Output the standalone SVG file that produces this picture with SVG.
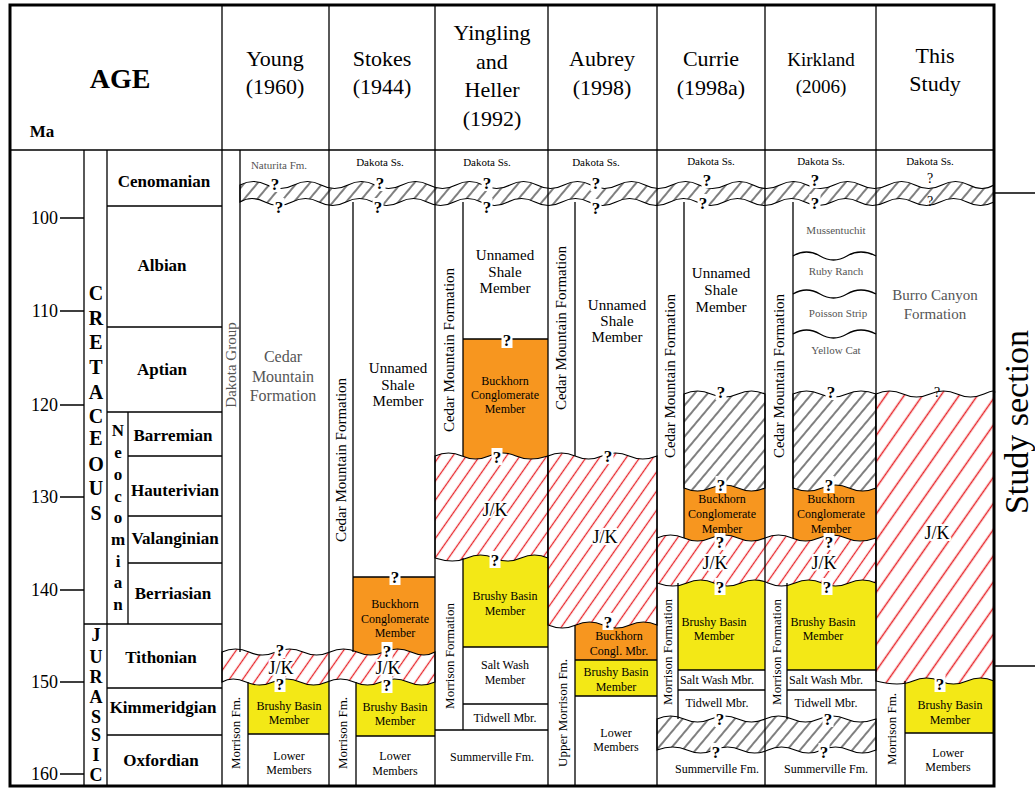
<svg xmlns="http://www.w3.org/2000/svg" width="1035" height="789" viewBox="0 0 1035 789" font-family="'Liberation Serif', 'DejaVu Serif', serif">
<style>
text{font-family:'Liberation Serif','DejaVu Serif',serif;text-anchor:middle;fill:#000}
.ln{stroke:#000;stroke-width:1.3;fill:none}
.bd{stroke:#000;stroke-width:1.2}
.g{fill:#555}
.b{font-weight:bold}
.m{font-size:12px}
.s{font-size:11px}
.u{font-size:15px}
.jk{font-size:18px;stroke:#fff;stroke-width:4;paint-order:stroke;stroke-linejoin:round}
.h{font-size:22px}
.stg{font-size:17px;font-weight:bold}
.num{font-size:18px;text-anchor:end}
.yel{fill:#f3e816}
.org{fill:#f7961f}
</style>
<defs>
<pattern id="redh" patternUnits="userSpaceOnUse" width="11" height="11" patternTransform="rotate(35)"><rect width="11" height="11" fill="#fff"/><line x1="5.5" y1="0" x2="5.5" y2="11" stroke="#e8262b" stroke-width="1.3"/></pattern>
<pattern id="redh2" patternUnits="userSpaceOnUse" width="15" height="15" patternTransform="rotate(35)"><rect width="15" height="15" fill="#fff"/><line x1="7.5" y1="0" x2="7.5" y2="15" stroke="#e8262b" stroke-width="1.5"/></pattern>
<pattern id="grayh" patternUnits="userSpaceOnUse" width="10" height="10" patternTransform="rotate(40)"><rect width="10" height="10" fill="#fff"/><line x1="5" y1="0" x2="5" y2="10" stroke="#000" stroke-width="1"/></pattern>
<g id="q"><rect x="-5.5" y="-9" width="11" height="17" fill="#fff"/><text y="6" font-size="17" font-weight="bold" font-family="'Liberation Serif', serif">?</text></g>
</defs>
<rect width="1035" height="789" fill="#fff"/>

<g id="header" font-family="'Liberation Serif', serif">
<text x="120" y="88" font-size="28" class="b">AGE</text>
<text x="42" y="137" font-size="17" class="b">Ma</text>
<text x="275" y="66" class="h">Young</text><text x="275" y="94" class="h">(1960)</text>
<text x="382" y="66" class="h">Stokes</text><text x="382" y="94" class="h">(1944)</text>
<text x="492" y="40" class="h">Yingling</text><text x="492" y="69" class="h">and</text><text x="492" y="97" class="h">Heller</text><text x="492" y="126" class="h">(1992)</text>
<text x="602" y="66" class="h">Aubrey</text><text x="602" y="95" class="h">(1998)</text>
<text x="711" y="66" class="h">Currie</text><text x="711" y="95" class="h">(1998a)</text>
<text x="821" y="66" font-size="19" fill="#333">Kirkland</text><text x="821" y="93" font-size="19" fill="#333">(2006)</text>
<text x="935" y="63" class="h">This</text><text x="935" y="91" class="h">Study</text>
</g>

<g id="age">
<path class="ln" d="M84,150V786 M107,150V786 M128,412V624 M107,206H222 M107,327H222 M107,412H222 M128,456H222 M128,516H222 M128,563H222 M84,624H222 M107,688H222 M107,735H222"/>
<path class="ln" d="M60,218H84 M60,311H84 M60,405H84 M60,497H84 M60,590H84 M60,682H84 M60,774H84"/>
<text x="58" y="224" class="num">100</text>
<text x="58" y="317" class="num">110</text>
<text x="58" y="411" class="num">120</text>
<text x="58" y="503" class="num">130</text>
<text x="58" y="596" class="num">140</text>
<text x="58" y="688" class="num">150</text>
<text x="58" y="780" class="num">160</text>
<g font-size="20" font-weight="bold">
<text x="96" y="300" class="b">C</text><text x="96" y="325" class="b">R</text><text x="96" y="349" class="b">E</text><text x="96" y="374" class="b">T</text><text x="96" y="399" class="b">A</text><text x="96" y="423" class="b">C</text><text x="96" y="445" class="b">E</text><text x="96" y="471" class="b">O</text><text x="96" y="495" class="b">U</text><text x="96" y="520" class="b">S</text>
</g>
<g font-size="17">
<text x="118" y="436" class="b">N</text><text x="118" y="458" class="b">e</text><text x="118" y="480" class="b">o</text><text x="118" y="502" class="b">c</text><text x="118" y="523" class="b">o</text><text x="118" y="545" class="b">m</text><text x="118" y="567" class="b">i</text><text x="118" y="588" class="b">a</text><text x="118" y="610" class="b">n</text>
</g>
<g font-size="18">
<text x="96" y="641" class="b">J</text><text x="96" y="663" class="b">U</text><text x="96" y="683" class="b">R</text><text x="96" y="703" class="b">A</text><text x="96" y="723" class="b">S</text><text x="96" y="741" class="b">S</text><text x="96" y="761" class="b">I</text><text x="96" y="781" class="b">C</text>
</g>
<text x="164" y="187" class="stg">Cenomanian</text>
<text x="162" y="271" class="stg">Albian</text>
<text x="162" y="375" class="stg">Aptian</text>
<text x="173" y="441" class="stg">Barremian</text>
<text x="175" y="496" class="stg">Hauterivian</text>
<text x="175" y="544" class="stg">Valanginian</text>
<text x="173" y="599" class="stg">Berriasian</text>
<text x="161" y="663" class="stg">Tithonian</text>
<text x="163" y="713" class="stg">Kimmeridgian</text>
<text x="161" y="766" class="stg">Oxfordian</text>
</g>

<g id="fills">
<rect class="yel" x="248" y="676" width="81" height="58"/>
<rect class="org" x="353" y="577" width="82" height="82"/>
<rect class="yel" x="356" y="676" width="79" height="60"/>
<rect class="org" x="463" y="339" width="85" height="123"/>
<rect class="yel" x="463" y="552" width="85" height="95"/>
<rect class="org" x="575" y="618" width="82" height="42"/>
<rect class="yel" x="575" y="660" width="82" height="36"/>
<rect class="org" x="684" y="482" width="81" height="62"/>
<rect class="yel" x="678" y="578" width="87" height="92"/>
<rect class="org" x="793" y="482" width="83" height="62"/>
<rect class="yel" x="787" y="578" width="89" height="92"/>
<rect class="yel" x="905" y="675" width="89" height="58"/>
</g>

<g id="bands" class="bd">
<path fill="url(#grayh)" d="M240,185 Q253.5,178 267,185 T294,185 T321,185 T348,185 T375,185 T402,185 T429,185 T456,185 T483,185 T510,185 T537,185 T564,185 T591,185 T618,185 T645,185 T672,185 T699,185 T726,185 T753,185 T780,185 T807,185 T834,185 T861,185 T888,185 T915,185 T942,185 T969,185 T994,185 L994,202 Q980.5,209 967,202 T940,202 T913,202 T886,202 T859,202 T832,202 T805,202 T778,202 T751,202 T724,202 T697,202 T670,202 T643,202 T616,202 T589,202 T562,202 T535,202 T508,202 T481,202 T454,202 T427,202 T400,202 T373,202 T346,202 T319,202 T292,202 T265,202 T240,202 Z"/>
<path fill="url(#redh)" d="M222,652 Q235.5,646 249,652 T276,652 T303,652 T330,652 T357,652 T384,652 T411,652 T435,652 L435,682 Q421.5,688 408,682 T381,682 T354,682 T327,682 T300,682 T273,682 T246,682 T222,682 Z"/>
<path fill="url(#redh)" d="M435,456 Q448.5,450 462,456 T489,456 T516,456 T548,456 L548,558 Q534.5,552 521,558 T494,558 T467,558 T435,558 Z"/>
<path fill="url(#redh)" d="M548,456 Q561.5,450 575,456 T602,456 T629,456 T657,456 L657,625 Q643.5,619 630,625 T603,625 T576,625 T548,625 Z"/>
<path fill="url(#grayh)" d="M684,394 Q697.5,388 711,394 T738,394 T765,394 L765,488 Q751.5,494 738,488 T711,488 T684,488 Z"/>
<path fill="url(#grayh)" d="M793,394 Q806.5,388 820,394 T847,394 T876,394 L876,488 Q862.5,494 849,488 T822,488 T793,488 Z"/>
<path fill="url(#redh)" d="M657,538 Q670.5,532 684,538 T711,538 T738,538 T765,538 T792,538 T819,538 T846,538 T876,538 L876,583 Q862.5,577 849,583 T822,583 T795,583 T768,583 T741,583 T714,583 T687,583 T657,583 Z"/>
<path fill="url(#grayh)" d="M657,719 Q670.5,713 684,719 T711,719 T738,719 T765,719 T792,719 T819,719 T846,719 T876,719 L876,750 Q862.5,756 849,750 T822,750 T795,750 T768,750 T741,750 T714,750 T687,750 T657,750 Z"/>
<path fill="url(#redh2)" d="M876,394 Q889.5,388 903,394 T930,394 T957,394 T984,394 T994,394 L994,681 Q980.5,675 967,681 T940,681 T913,681 T876,681 Z"/>
</g>

<g id="connectors" class="ln">
<path d="M240,150V652 M248,682V786 M248,734H329"/>
<path d="M353,202V652 M353,577H435 M356,682V786 M356,736H435"/>
<path d="M463,202V456 M463,339H548 M463,558V730 M463,647H548 M463,704H548 M435,730H548"/>
<path d="M575,202V456 M575,625V786 M575,660H657 M575,696H657"/>
<path d="M684,202V538 M678,583V719 M678,670H765 M678,690H765"/>
<path d="M793,202V538 M787,583V719 M787,670H876 M787,690H876"/>
<path d="M793,256 Q806.5,248 820,256 T847,256 T876,256 M793,294 Q806.5,286 820,294 T847,294 T876,294 M793,334 Q806.5,326 820,334 T847,334 T876,334"/>
<path d="M905,681V786 M905,733H994"/>
<path d="M222,5V786 M329,5V786 M435,5V786 M548,5V786 M657,5V786 M765,5V786 M876,5V786 M10,150H994"/>
<path d="M994,193H1035 M994,666H1035"/>
</g>

<g id="col-young">
<text x="279" y="169" class="s g">Naturita Fm.</text>
<text transform="translate(236,365) rotate(-90)" class="u g">Dakota Group</text>
<text x="283" y="362" font-size="16" class="g">Cedar</text>
<text x="283" y="382" font-size="16" class="g">Mountain</text>
<text x="283" y="401" font-size="16" class="g">Formation</text>
<use href="#q" x="275" y="184"/><use href="#q" x="279" y="207"/>
<use href="#q" x="280" y="650"/>
<text x="281" y="674" class="jk">J/K</text>
<use href="#q" x="280" y="684"/>
<text transform="translate(240,733) rotate(-90)" font-size="13">Morrison Fm.</text>
<text x="289" y="710" class="m">Brushy Basin</text><text x="289" y="724" class="m">Member</text>
<text x="289" y="760" class="m">Lower</text><text x="289" y="774" class="m">Members</text>
</g>

<g id="col-stokes">
<text x="380" y="166" class="s">Dakota Ss.</text>
<use href="#q" x="380" y="183"/><use href="#q" x="378" y="207"/>
<text transform="translate(346,460) rotate(-90)" class="u">Cedar Mountain Formation</text>
<text x="398" y="373" class="u">Unnamed</text><text x="398" y="390" class="u">Shale</text><text x="398" y="406" class="u">Member</text>
<use href="#q" x="395" y="577"/>
<text x="395" y="608" class="m">Buckhorn</text><text x="395" y="623" class="m">Conglomerate</text><text x="395" y="637" class="m">Member</text>
<use href="#q" x="387" y="651"/>
<text x="388" y="674" class="jk">J/K</text>
<use href="#q" x="387" y="685"/>
<text transform="translate(347,733) rotate(-90)" font-size="13">Morrison Fm.</text>
<text x="395" y="711" class="m">Brushy Basin</text><text x="395" y="725" class="m">Member</text>
<text x="395" y="760" class="m">Lower</text><text x="395" y="775" class="m">Members</text>
</g>

<g id="col-yingling">
<text x="487" y="166" class="s">Dakota Ss.</text>
<use href="#q" x="487" y="183"/><use href="#q" x="487" y="207"/>
<text transform="translate(454,350) rotate(-90)" class="u">Cedar Mountain Formation</text>
<text x="505" y="260" class="u">Unnamed</text><text x="505" y="277" class="u">Shale</text><text x="505" y="293" class="u">Member</text>
<use href="#q" x="507" y="340"/>
<text x="505" y="385" class="m">Buckhorn</text><text x="505" y="399" class="m">Conglomerate</text><text x="505" y="413" class="m">Member</text>
<use href="#q" x="497" y="457"/>
<text x="495" y="516" class="jk">J/K</text>
<use href="#q" x="495" y="560"/>
<text transform="translate(454,656) rotate(-90)" font-size="13">Morrison Formation</text>
<text x="505" y="600" class="m">Brushy Basin</text><text x="505" y="615" class="m">Member</text>
<text x="505" y="669" class="m">Salt Wash</text><text x="505" y="684" class="m">Member</text>
<text x="505" y="722" class="m">Tidwell Mbr.</text>
<text x="492" y="761" class="m">Summerville Fm.</text>
</g>

<g id="col-aubrey">
<text x="596" y="166" class="s">Dakota Ss.</text>
<use href="#q" x="596" y="183"/><use href="#q" x="596" y="208"/>
<text transform="translate(566,328) rotate(-90)" class="u">Cedar Mountain Formation</text>
<text x="617" y="310" class="u">Unnamed</text><text x="617" y="326" class="u">Shale</text><text x="617" y="342" class="u">Member</text>
<use href="#q" x="608" y="456"/>
<text x="605" y="543" class="jk">J/K</text>
<use href="#q" x="608" y="622"/>
<text transform="translate(567,713) rotate(-90)" font-size="13">Upper Morrison Fm.</text>
<text x="619" y="640" class="m">Buckhorn</text><text x="619" y="655" class="m">Congl. Mbr.</text>
<text x="616" y="676" class="m">Brushy Basin</text><text x="616" y="691" class="m">Member</text>
<text x="616" y="737" class="m">Lower</text><text x="616" y="751" class="m">Members</text>
</g>

<g id="col-currie">
<text x="711" y="165" class="s">Dakota Ss.</text>
<use href="#q" x="707" y="180"/><use href="#q" x="703" y="203"/>
<text transform="translate(675,376) rotate(-90)" class="u">Cedar Mountain Formation</text>
<text x="721" y="278" class="u">Unnamed</text><text x="721" y="295" class="u">Shale</text><text x="721" y="312" class="u">Member</text>
<use href="#q" x="721" y="392"/><use href="#q" x="721" y="485"/>
<text x="722" y="503" class="m">Buckhorn</text><text x="722" y="518" class="m">Conglomerate</text><text x="722" y="533" class="m">Member</text>
<use href="#q" x="720" y="542"/>
<text x="715" y="569" class="jk">J/K</text>
<use href="#q" x="720" y="587"/>
<text transform="translate(672,652) rotate(-90)" font-size="13">Morrison Formation</text>
<text x="714" y="626" class="m">Brushy Basin</text><text x="714" y="640" class="m">Member</text>
<text x="717" y="684" class="m">Salt Wash Mbr.</text>
<text x="717" y="707" class="m">Tidwell Mbr.</text>
<use href="#q" x="720" y="719"/><use href="#q" x="716" y="752"/>
<text x="717" y="773" class="m">Summerville Fm.</text>
</g>

<g id="col-kirkland">
<text x="821" y="165" class="s">Dakota Ss.</text>
<use href="#q" x="815" y="180"/><use href="#q" x="815" y="203"/>
<text transform="translate(784,376) rotate(-90)" class="u">Cedar Mountain Formation</text>
<text x="836" y="234" class="s g">Mussentuchit</text>
<text x="836" y="275" class="s g">Ruby Ranch</text>
<text x="838" y="317" class="s g">Poisson Strip</text>
<text x="836" y="354" class="s g">Yellow Cat</text>
<use href="#q" x="831" y="392"/><use href="#q" x="829" y="485"/>
<text x="831" y="503" class="m">Buckhorn</text><text x="831" y="518" class="m">Conglomerate</text><text x="831" y="533" class="m">Member</text>
<use href="#q" x="829" y="542"/>
<text x="824" y="569" class="jk">J/K</text>
<use href="#q" x="827" y="587"/>
<text transform="translate(781,652) rotate(-90)" font-size="13">Morrison Formation</text>
<text x="823" y="626" class="m">Brushy Basin</text><text x="823" y="640" class="m">Member</text>
<text x="826" y="684" class="m">Salt Wash Mbr.</text>
<text x="826" y="707" class="m">Tidwell Mbr.</text>
<use href="#q" x="828" y="719"/><use href="#q" x="824" y="752"/>
<text x="826" y="773" class="m">Summerville Fm.</text>
</g>

<g id="col-this-study">
<text x="930" y="165" class="s">Dakota Ss.</text>
<text x="930" y="183" font-size="14">?</text>
<text x="930" y="206" font-size="14">?</text>
<text x="935" y="300" class="u g">Burro Canyon</text><text x="935" y="319" class="u g">Formation</text>
<text x="937" y="397" font-size="14">?</text>
<text x="937" y="539" class="jk" font-size="17">J/K</text>
<use href="#q" x="940" y="684"/>
<text transform="translate(896,729) rotate(-90)" font-size="13">Morrison Fm.</text>
<text x="950" y="709" class="m">Brushy Basin</text><text x="950" y="724" class="m">Member</text>
<text x="948" y="757" class="m">Lower</text><text x="948" y="771" class="m">Members</text>
</g>

<g id="study-section">
<text transform="translate(1028,422) rotate(-90)" font-size="34">Study section</text>
</g>

<rect id="frame" x="10" y="5" width="984" height="781" fill="none" stroke="#000" stroke-width="3"/>
</svg>
